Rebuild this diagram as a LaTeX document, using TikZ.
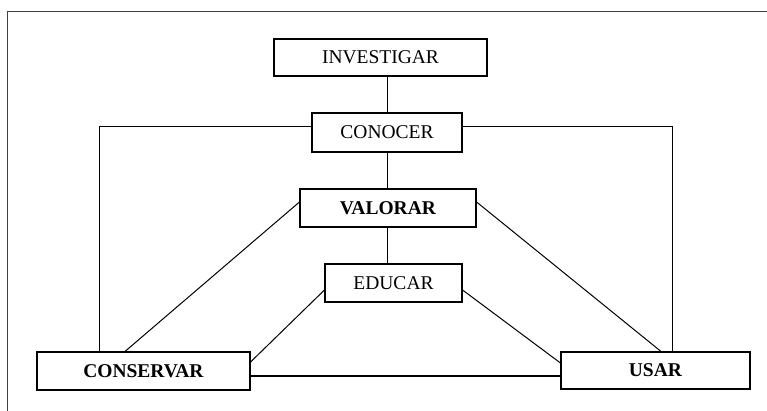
\documentclass[tikz,border=0pt]{standalone}
\usepackage{fontspec}
\setmainfont{Liberation Serif}
\begin{document}
\begin{tikzpicture}[x=1pt,y=-1pt,
  box/.style={draw=black,line width=1.1pt,inner sep=0pt,align=center,
    font=\fontsize{19.5}{23}\selectfont},
  link/.style={draw=black,line width=1pt},
  frameline/.style={draw=black!75,line width=0.9pt}]
\useasboundingbox (0,0) rectangle (767,411);
% frame
\coordinate (ftr) at (767,11);
\coordinate (ftl) at (7,11);
\coordinate (fbl) at (7,411);
\draw[frameline] (ftr) -- (ftl) -- (fbl);
% nodes
\node[box,minimum width=213pt,minimum height=37pt] (inv) at (380.5,57.5) {INVESTIGAR};
\node[box,minimum width=150pt,minimum height=39pt] (con) at (387,132.5) {CONOCER};
\node[box,minimum width=176pt,minimum height=38pt] (val) at (388,208) {\textbf{VALORAR}};
\node[box,minimum width=137pt,minimum height=38pt] (edu) at (393.5,283) {EDUCAR};
\node[box,minimum width=213pt,minimum height=38pt] (cons) at (143.5,371) {\textbf{CONSERVAR}};
\node[box,minimum width=189pt,minimum height=37pt] (usar) at (655.5,370.5) {\textbf{USAR}};
% helper coordinates
\coordinate (lc) at (99.5,127);
\coordinate (rc) at (672.5,127);
\coordinate (vx) at (387,0);
% vertical chain
\draw[link] (inv.south -| vx) -- (con.north -| vx);
\draw[link] (con.south -| vx) -- (val.north -| vx);
\draw[link] (val.south -| vx) -- (edu.north -| vx);
% outer branches
\draw[link] (con.west |- lc) -- (lc) -- (lc |- cons.north);
\draw[link] (con.east |- rc) -- (rc) -- (rc |- usar.north);
% diagonals from VALORAR
\draw[link] ([yshift=6pt]val.west) -- ([xshift=-18.5pt]cons.north);
\draw[link] ([yshift=6pt]val.east) -- ([xshift=5.5pt]usar.north);
% diagonals from EDUCAR
\draw[link] ([yshift=-7pt]edu.west) -- ([yshift=9pt]cons.east);
\draw[link] ([yshift=-7pt]edu.east) -- ([yshift=7.5pt]usar.west);
% base
\draw[draw=black,line width=2.2pt] ([yshift=-5pt]cons.east) -- ([yshift=-5.5pt]usar.west);
\end{tikzpicture}
\end{document}
